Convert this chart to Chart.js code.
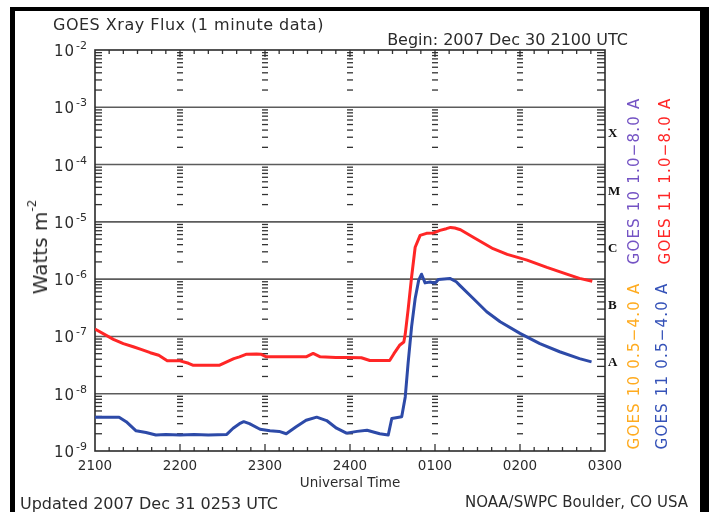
<!DOCTYPE html>
<html>
<head>
<meta charset="utf-8">
<script src="https://cdn.jsdelivr.net/npm/chart.js@4"></script>
<style>
  html, body { margin: 0; padding: 0; background: #fff; }
  body { width: 709px; height: 512px; position: relative; overflow: hidden; font-family: 'DejaVu Sans', sans-serif; color: #2b2b2b; }
  #chart { position: absolute; left: 0; top: 0; }
  .txt { position: absolute; white-space: nowrap; line-height: 1; }
  .rot { transform: translate(-50%, -50%) rotate(-90deg); }
  .bar { position: absolute; background: #000; }
</style>
</head>
<body>
<canvas id="chart" width="709" height="512"></canvas>

<div class="bar" style="left:10px;top:7px;width:5px;height:505px"></div>
<div class="bar" style="left:10px;top:7px;width:699px;height:4px"></div>
<div class="bar" style="left:700px;top:7px;width:9px;height:505px"></div>

<div class="txt" style="left:53px;top:16.5px;font-size:16px;letter-spacing:0.5px">GOES Xray Flux (1 minute data)</div>
<div class="txt" style="right:81px;top:31.5px;font-size:16px">Begin: 2007 Dec 30 2100 UTC</div>
<div class="txt" style="left:350px;top:475.6px;font-size:13.5px;transform:translateX(-50%)">Universal Time</div>
<div class="txt" style="left:20px;top:495.5px;font-size:16px">Updated 2007 Dec 31 0253 UTC</div>
<div class="txt" style="right:21px;top:495.3px;font-size:15px">NOAA/SWPC Boulder, CO USA</div>

<div class="txt rot" style="left:40px;top:246.5px;font-size:20px">Watts m<span style="position:relative;top:-11px;font-size:12px">-2</span></div>

<div class="txt rot" style="left:634px;top:181px;font-size:15px;letter-spacing:1.2px;color:#7453c4">GOES 10 1.0&minus;8.0 A</div>
<div class="txt rot" style="left:665px;top:181px;font-size:15px;letter-spacing:1.2px;color:#ff2626">GOES 11 1.0&minus;8.0 A</div>
<div class="txt rot" style="left:634px;top:365.5px;font-size:15px;letter-spacing:1.2px;color:#ffab1f">GOES 10 0.5&minus;4.0 A</div>
<div class="txt rot" style="left:662px;top:365.5px;font-size:15px;letter-spacing:1.2px;color:#3552b8">GOES 11 0.5&minus;4.0 A</div>

<script>
// hour labels along the time axis (minutes after 2100 UTC)
const hourLabels = ['2100', '2200', '2300', '2400', '0100', '0200', '0300'];
const decadeExps = [-9, -8, -7, -6, -5, -4, -3, -2];
const classLetters = ['A', 'B', 'C', 'M', 'X'];
const classExps = [-7.5, -6.5, -5.5, -4.5, -3.5];

// GOES 11 1.0-8.0 A (long channel), minutes after 2100 UTC and W m^-2
const longTimes = [0, 13, 20, 27, 33, 39, 45, 51, 60, 66, 69, 80, 88, 93, 98, 102, 107, 114, 117, 121,
  135, 149, 154, 159, 170, 178, 188, 194, 208, 211, 215, 218, 219, 221, 223.5, 226, 229.5, 234, 239, 243.5,
  248, 251, 254, 258, 267, 281, 291, 305, 319, 333, 342, 351];
const longFlux = [1.34e-7, 8.9e-8, 7.5e-8, 6.6e-8, 5.9e-8, 5.2e-8, 4.7e-8, 3.75e-8, 3.75e-8, 3.4e-8,
  3.15e-8, 3.15e-8, 3.15e-8, 3.6e-8, 4.1e-8, 4.4e-8, 4.9e-8, 4.95e-8, 4.9e-8, 4.4e-8,
  4.4e-8, 4.4e-8, 5.05e-8, 4.4e-8, 4.3e-8, 4.3e-8, 4.25e-8, 3.8e-8, 3.8e-8, 5.0e-8,
  7.0e-8, 8.0e-8, 1.1e-7, 2.9e-7, 1.1e-6, 3.6e-6, 5.8e-6, 6.3e-6, 6.4e-6, 7.1e-6,
  7.6e-6, 8.0e-6, 7.8e-6, 7.3e-6, 5.4e-6, 3.4e-6, 2.7e-6, 2.15e-6, 1.6e-6, 1.22e-6,
  1.03e-6, 9.2e-7];

// GOES 11 0.5-4.0 A (short channel)
const shortTimes = [0, 17, 22, 29, 36, 43, 50, 60, 70, 80, 93, 97.5, 102, 105, 109, 116.5, 123.5, 130, 135, 142,
  149, 156.5, 163.5, 170.5, 177.5, 185, 192, 201, 207, 209.5, 216.5, 219, 221, 223.5, 226, 228.5, 230.5, 233, 236.5, 240,
  242.5, 250.5, 255, 257.5, 267, 276.5, 286, 300, 314, 328, 342, 350.5];
const shortFlux = [3.9e-9, 3.9e-9, 3.25e-9, 2.25e-9, 2.1e-9, 1.9e-9, 1.95e-9, 1.9e-9, 1.95e-9, 1.9e-9,
  1.95e-9, 2.5e-9, 3.0e-9, 3.25e-9, 3.0e-9, 2.4e-9, 2.25e-9, 2.2e-9, 2.0e-9, 2.65e-9,
  3.45e-9, 3.9e-9, 3.4e-9, 2.5e-9, 2.05e-9, 2.2e-9, 2.3e-9, 2.0e-9, 1.9e-9, 3.7e-9,
  3.95e-9, 8.8e-9, 3.4e-8, 1.5e-7, 4.6e-7, 9.6e-7, 1.22e-6, 8.6e-7, 8.9e-7, 8.5e-7,
  9.9e-7, 1.03e-6, 9.0e-7, 7.8e-7, 4.6e-7, 2.7e-7, 1.8e-7, 1.13e-7, 7.5e-8, 5.4e-8,
  4.1e-8, 3.6e-8];

const toPoints = (ts, vs) => ts.map((t, i) => ({ x: t, y: vs[i] }));

// box, decade lines and the little tick marks IDL puts everywhere
const goesFrame = {
  id: 'goesFrame',
  beforeDatasetsDraw(chart) {
    const { ctx, chartArea: a, scales: { x, y } } = chart;
    const seg = (x1, y1, x2, y2) => { ctx.beginPath(); ctx.moveTo(x1, y1); ctx.lineTo(x2, y2); ctx.stroke(); };
    ctx.save();
    ctx.strokeStyle = '#5c5c5c';
    ctx.lineWidth = 1.6;
    decadeExps.forEach(e => {
      if (e <= -9 || e >= -2) return;
      const py = y.getPixelForValue(Math.pow(10, e));
      seg(a.left, py, a.right, py);
    });

    ctx.strokeStyle = '#333';
    ctx.lineWidth = 1.3;
    const hourX = [];
    for (let t = 60; t < 360; t += 60) hourX.push(x.getPixelForValue(t));
    for (let e = -9; e < -2; e++) {
      for (let m = 2; m <= 9; m++) {
        const py = y.getPixelForValue(m * Math.pow(10, e));
        seg(a.left, py, a.left + 7, py);
        seg(a.right - 8, py, a.right, py);
        hourX.forEach(hx => seg(hx - 3, py, hx + 3, py));
      }
    }
    for (let t = 10; t < 360; t += 10) {
      const px = x.getPixelForValue(t);
      const len = t % 60 === 0 ? 7 : 4;
      seg(px, a.bottom, px, a.bottom - len);
      seg(px, a.top, px, a.top + len);
    }

    ctx.strokeStyle = '#2b2b2b';
    ctx.lineWidth = 1.6;
    ctx.strokeRect(a.left, a.top, a.right - a.left, a.bottom - a.top);
    ctx.restore();
  },
  afterDraw(chart) {
    const { ctx, chartArea: a, scales: { y } } = chart;
    ctx.save();
    ctx.fillStyle = '#2b2b2b';
    ctx.textAlign = 'left';
    ctx.textBaseline = 'alphabetic';
    decadeExps.forEach(e => {
      const py = y.getPixelForValue(Math.pow(10, e));
      ctx.font = '15px "DejaVu Sans"';
      ctx.letterSpacing = '1px';
      ctx.fillText('10', 54, py + 6);
      ctx.font = '11px "DejaVu Sans"';
      ctx.letterSpacing = '0px';
      ctx.fillText(String(e), 76, py - 1);
    });
    // flare classes
    ctx.font = 'bold 13px "Liberation Serif"';
    ctx.textBaseline = 'middle';
    ctx.fillStyle = '#111';
    classLetters.forEach((c, i) => {
      ctx.fillText(c, a.right + 3, y.getPixelForValue(Math.pow(10, classExps[i])) - 2);
    });
    ctx.restore();
  }
};

Chart.defaults.font.family = "'DejaVu Sans', sans-serif";

new Chart(document.getElementById('chart').getContext('2d'), {
  type: 'line',
  data: {
    datasets: [
      {
        label: 'GOES 11 0.5-4.0 A',
        data: toPoints(shortTimes, shortFlux),
        borderColor: '#2d4aa8',
        borderWidth: 3,
        borderJoinStyle: 'round',
        pointRadius: 0,
        tension: 0
      },
      {
        label: 'GOES 11 1.0-8.0 A',
        data: toPoints(longTimes, longFlux),
        borderColor: '#ff2626',
        borderWidth: 3,
        borderJoinStyle: 'round',
        pointRadius: 0,
        tension: 0
      }
    ]
  },
  options: {
    responsive: false,
    animation: false,
    devicePixelRatio: 1,
    layout: { padding: { top: 50, right: 104, left: 0, bottom: 0 } },
    plugins: { legend: { display: false }, tooltip: { enabled: false } },
    scales: {
      x: {
        type: 'linear',
        min: 0,
        max: 360,
        afterFit(s) { s.height = 61; },
        grid: { display: false, drawTicks: false },
        border: { display: false },
        ticks: {
          stepSize: 60,
          maxRotation: 0,
          autoSkip: false,
          padding: 7,
          color: '#2b2b2b',
          font: { size: 13.5 },
          callback: v => hourLabels[Math.round(v / 60)]
        }
      },
      y: {
        type: 'logarithmic',
        min: 1e-9,
        max: 1e-2,
        afterFit(s) { s.width = 95; },
        grid: { display: false, drawTicks: false },
        border: { display: false },
        ticks: { display: false }
      }
    }
  },
  plugins: [goesFrame]
});
</script>
</body>
</html>
